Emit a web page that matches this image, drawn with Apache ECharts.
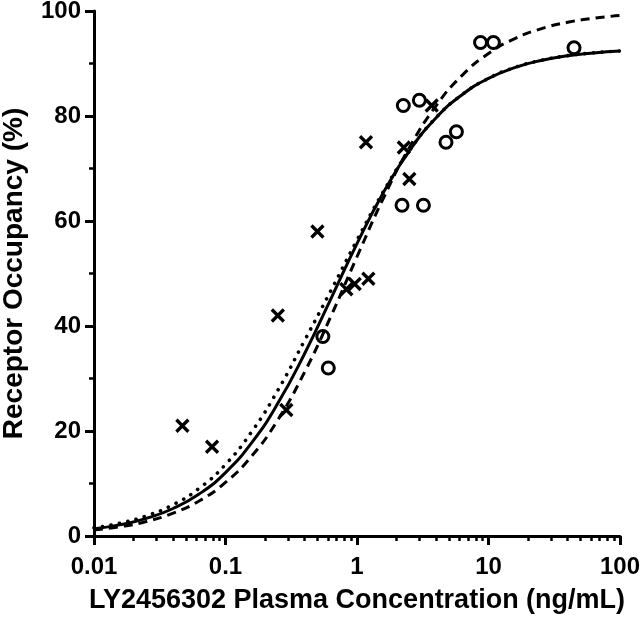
<!DOCTYPE html>
<html>
<head>
<meta charset="utf-8">
<script src="https://cdn.jsdelivr.net/npm/echarts@6/dist/echarts.min.js"></script>
<style>
html,body{margin:0;padding:0;background:#fff;}
#chart{width:641px;height:618px;}
</style>
</head>
<body>
<div id="chart"></div>
<script>
// ---- Data ----
const crossX = [0.047, 0.079, 0.25, 0.29, 0.50, 0.83, 0.96, 1.22, 1.17, 2.27, 2.5, 3.7];
const crossY = [21, 17, 42, 24, 58, 47, 48, 49, 75, 74, 68, 82];

const circleX = [0.55, 0.605, 2.2, 3.2, 2.25, 2.98, 4.75, 5.7, 8.7, 10.9, 44.7];
const circleY = [38, 32, 63, 63, 82, 83, 75, 77, 94, 94, 93];

const curveX  = [0.01, 0.016, 0.025, 0.04, 0.063, 0.1, 0.16, 0.25, 0.4, 0.63, 1, 1.6, 2.5, 4, 6.3, 10, 16, 25, 40, 63, 100];
const solidY  = [1.37, 2.17, 3.35, 5.24, 7.99, 12.08, 17.93, 25.27, 34.77, 45.07, 55.69, 65.55, 73.34, 79.66, 84.06, 87.16, 89.26, 90.57, 91.47, 92.02, 92.38];
const dashedY = [1.12, 1.79, 2.76, 4.35, 6.68, 10.20, 15.38, 22.12, 31.25, 41.72, 53.19, 64.52, 73.96, 81.97, 87.74, 91.91, 94.79, 96.60, 97.85, 98.62, 99.13];
const dottedY = [1.57, 2.49, 3.83, 5.97, 9.08, 13.62, 20.04, 27.75, 37.27, 46.64, 56.35, 65.75, 73.40, 79.70, 84.08, 87.18, 89.28, 90.59, 91.49, 92.04, 92.40];

const xMajorTicks = [0.01, 0.1, 1, 10, 100];
const xTickLabels = ['0.01', '0.1', '1', '10', '100'];
const xMinorTicks = [0.02,0.03,0.04,0.05,0.06,0.07,0.08,0.09,
                     0.2,0.3,0.4,0.5,0.6,0.7,0.8,0.9,
                     2,3,4,5,6,7,8,9,
                     20,30,40,50,60,70,80,90];
const yTicks = [0, 20, 40, 60, 80, 100];

const xTitle = 'LY2456302 Plasma Concentration (ng/mL)';
const yTitle = 'Receptor Occupancy (%)';

// ---- Build ----
const FONT = '"Liberation Sans", Arial, Helvetica, sans-serif';
const zip = (a, b) => a.map((v, i) => [v, b[i]]);

const chart = echarts.init(document.getElementById('chart'), null, {renderer: 'canvas'});

const axisLineStyle = {color: '#000', width: 3};
const labelStyle = {color: '#000', fontSize: 24, fontWeight: 'bold', fontFamily: FONT};
const gridBox = {left: 94, right: 21, top: 11, bottom: 82, containLabel: false, outerBoundsMode: 'none'};

const option = {
  backgroundColor: '#fff',
  animation: false,
  grid: [Object.assign({}, gridBox), Object.assign({}, gridBox)],
  xAxis: [
    {
      type: 'log', logBase: 10, min: 0.01, max: 100, gridIndex: 0,
      name: xTitle, nameLocation: 'middle', nameGap: 51,
      nameTextStyle: {color: '#000', fontSize: 27, fontWeight: 'bold', fontFamily: FONT},
      axisLine: {show: true, lineStyle: axisLineStyle},
      axisTick: {show: true, length: 9, lineStyle: {color: '#000', width: 3}, customValues: xMajorTicks},
      axisLabel: Object.assign({margin: 19, customValues: xMajorTicks,
        formatter: (v) => {
          const i = xMajorTicks.findIndex(t => Math.abs(Math.log10(t) - Math.log10(v)) < 1e-6);
          return i >= 0 ? xTickLabels[i] : '';
        }}, labelStyle),
      splitLine: {show: false}
    },
    {
      type: 'log', logBase: 10, min: 0.01, max: 100, gridIndex: 1,
      axisLine: {show: false},
      axisTick: {show: true, length: 5, lineStyle: {color: '#000', width: 2.5}, customValues: xMinorTicks},
      axisLabel: {show: false},
      splitLine: {show: false}
    }
  ],
  yAxis: [
    {
      type: 'value', min: 0, max: 100, interval: 20, gridIndex: 0,
      name: yTitle, nameLocation: 'middle', nameGap: 66, nameRotate: 90,
      nameTextStyle: {color: '#000', fontSize: 28, fontWeight: 'bold', fontFamily: FONT},
      axisLine: {show: true, lineStyle: axisLineStyle},
      axisTick: {show: true, length: 9, lineStyle: {color: '#000', width: 3}},
      minorTick: {show: true, splitNumber: 2, length: 5, lineStyle: {color: '#000', width: 2.5}},
      axisLabel: Object.assign({margin: 13, customValues: yTicks}, labelStyle),
      splitLine: {show: false}
    },
    {
      type: 'value', min: 0, max: 100, gridIndex: 1, show: false
    }
  ],
  series: [
    {
      name: 'solid', type: 'line', xAxisIndex: 0, yAxisIndex: 0,
      data: zip(curveX, solidY), showSymbol: false, symbol: 'none',
      smooth: 0.5,
      lineStyle: {color: '#000', width: 3}, z: 3
    },
    {
      name: 'dashed', type: 'line', xAxisIndex: 0, yAxisIndex: 0,
      data: zip(curveX, dashedY), showSymbol: false, symbol: 'none',
      smooth: 0.5,
      lineStyle: {color: '#000', width: 3, type: [9, 6]}, z: 3
    },
    {
      name: 'dotted', type: 'line', xAxisIndex: 0, yAxisIndex: 0,
      data: zip(curveX, dottedY), showSymbol: false, symbol: 'none',
      smooth: 0.5,
      lineStyle: {color: '#000', width: 3.6, type: [0.1, 8.5], cap: 'round'}, z: 3
    },
    {
      name: 'cross', type: 'scatter', xAxisIndex: 0, yAxisIndex: 0,
      data: zip(crossX, crossY),
      symbol: 'path://M0,0L10,10M10,0L0,10', symbolSize: 12,
      itemStyle: {color: 'rgba(0,0,0,0)', borderColor: '#000', borderWidth: 3.3, opacity: 1},
      z: 4
    },
    {
      name: 'circle', type: 'scatter', xAxisIndex: 0, yAxisIndex: 0,
      data: zip(circleX, circleY),
      symbol: 'circle', symbolSize: 12,
      itemStyle: {color: 'rgba(0,0,0,0)', borderColor: '#000', borderWidth: 3, opacity: 1},
      z: 4
    }
  ]
};
chart.setOption(option);
</script>
</body>
</html>
